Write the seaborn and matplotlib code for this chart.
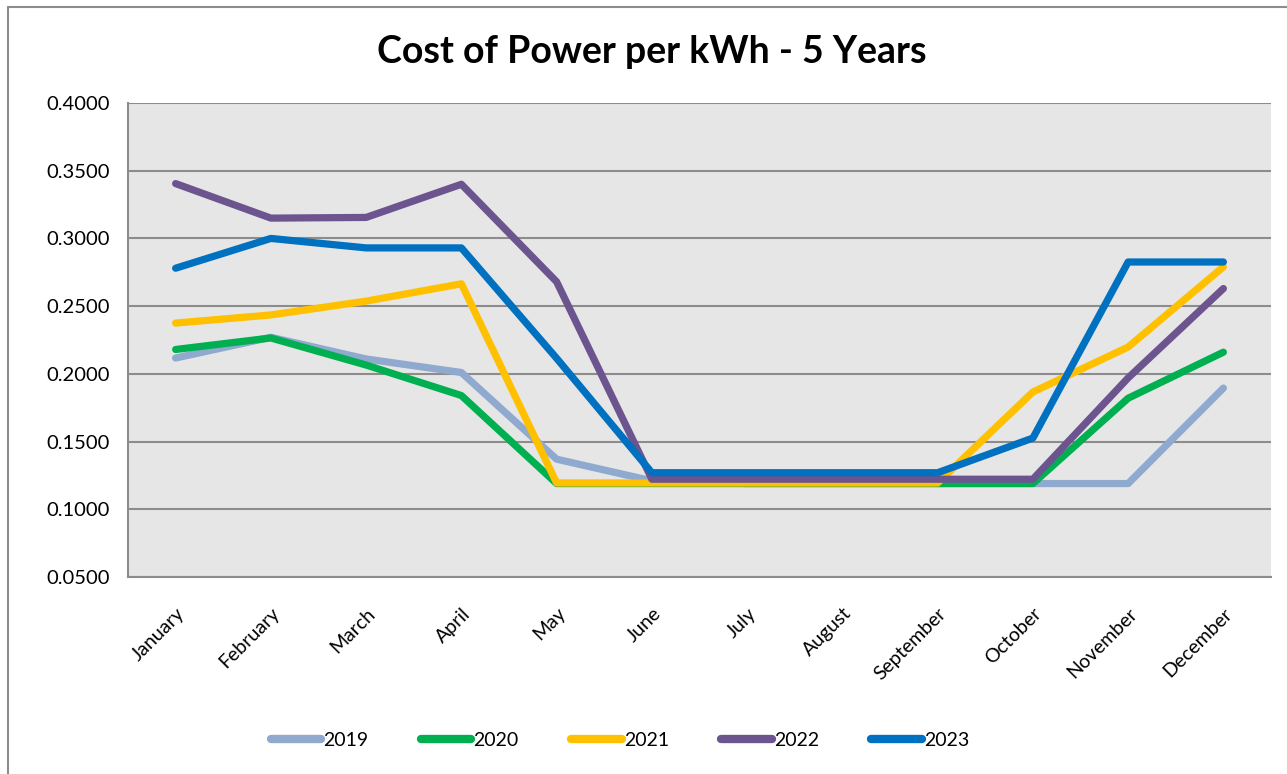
import pandas as pd
import numpy as np
import matplotlib.pyplot as plt
import seaborn as sns
from matplotlib.ticker import FixedLocator, FormatStrFormatter

months = ['January', 'February', 'March', 'April', 'May', 'June', 'July',
          'August', 'September', 'October', 'November', 'December']
years = ['2019', '2020', '2021', '2022', '2023']

cost_2019 = [0.2117, 0.2270, 0.2110, 0.2010, 0.1370, 0.1210, 0.1190, 0.1190, 0.1190, 0.1190, 0.1190, 0.1895]
cost_2020 = [0.2180, 0.2265, 0.2065, 0.1840, 0.1190, 0.1190, 0.1190, 0.1190, 0.1190, 0.1190, 0.1820, 0.2160]
cost_2021 = [0.2375, 0.2435, 0.2537, 0.2665, 0.1194, 0.1194, 0.1194, 0.1194, 0.1194, 0.1866, 0.2198, 0.2790]
cost_2022 = [0.3405, 0.3150, 0.3155, 0.3400, 0.2680, 0.1222, 0.1222, 0.1222, 0.1222, 0.1222, 0.1970, 0.2630]
cost_2023 = [0.2780, 0.3000, 0.2930, 0.2930, 0.2115, 0.1270, 0.1270, 0.1270, 0.1270, 0.1526, 0.2826, 0.2826]

colors = ['#8FA9CF', '#00B050', '#FFC000', '#6C548E', '#0070C0']

df = pd.DataFrame({'Month': months * 5,
                   'Year': np.repeat(years, 12),
                   'Cost': cost_2019 + cost_2020 + cost_2021 + cost_2022 + cost_2023})
df['pos'] = np.tile(np.arange(12), 5)

sns.set_style('white')
plt.rcParams['font.family'] = ['Lato', 'DejaVu Sans']
plt.rcParams['text.color'] = 'black'
plt.rcParams['xtick.labelcolor'] = 'black'
plt.rcParams['ytick.labelcolor'] = 'black'

fig = plt.figure(figsize=(12.87, 7.74), dpi=100)
ax = fig.add_axes([128 / 1287, 1 - 577 / 774, (1271 - 128) / 1287, (577 - 103) / 774])
ax.set_facecolor('#E6E6E6')

sns.lineplot(data=df, x='pos', y='Cost', hue='Year', palette=colors,
             linewidth=5.2, ax=ax, sort=False, solid_capstyle='round')

ax.set_xlim(-0.5, 11.5)
ax.set_ylim(0.05, 0.4)
ax.yaxis.set_major_locator(FixedLocator(np.arange(0.05, 0.401, 0.05)))
ax.yaxis.set_major_formatter(FormatStrFormatter('%.4f'))
ax.grid(axis='y', color='#8C8C8C', linewidth=1.5)
ax.set_axisbelow(True)

ax.set_xticks(np.arange(12))
ax.set_xticklabels(months, rotation=45, ha='right', rotation_mode='anchor', fontsize=14)
ax.set_xticks(np.arange(-0.5, 12, 1), minor=True)
ax.tick_params(axis='x', which='major', length=0, pad=20)
ax.tick_params(axis='x', which='minor', length=6, width=1.5, color='#8C8C8C', direction='out')
ax.tick_params(axis='y', length=6, width=1.5, color='#8C8C8C', direction='out', labelsize=14.5, pad=7)
ax.set_xlabel('')
ax.set_ylabel('')

for s in ['top', 'right']:
    ax.spines[s].set_visible(False)
for s in ['left', 'bottom']:
    ax.spines[s].set_color('#8C8C8C')
    ax.spines[s].set_linewidth(1.5)

fig.text(652 / 1287, 1 - 52 / 774, 'Cost of Power per kWh - 5 Years',
         ha='center', va='center', fontsize=27, fontweight='bold', color='black')

handles, labels = ax.get_legend_handles_labels()
for h in handles:
    h.set_linewidth(6)
ax.get_legend().remove()
fig.legend(handles, labels, loc='center', bbox_to_anchor=(620 / 1287, 1 - 740 / 774),
           ncol=5, frameon=False, fontsize=14, handlelength=2.6, handletextpad=0.1,
           columnspacing=2.7)

# outer chart border (left and top)
fig.add_artist(plt.Line2D([8 / 1287, 8 / 1287], [0, 1 - 7 / 774], transform=fig.transFigure,
                          color='#8C8C8C', linewidth=1.5))
fig.add_artist(plt.Line2D([8 / 1287, 1], [1 - 7 / 774, 1 - 7 / 774], transform=fig.transFigure,
                          color='#8C8C8C', linewidth=1.5))

fig.savefig('out.png', dpi=100)
